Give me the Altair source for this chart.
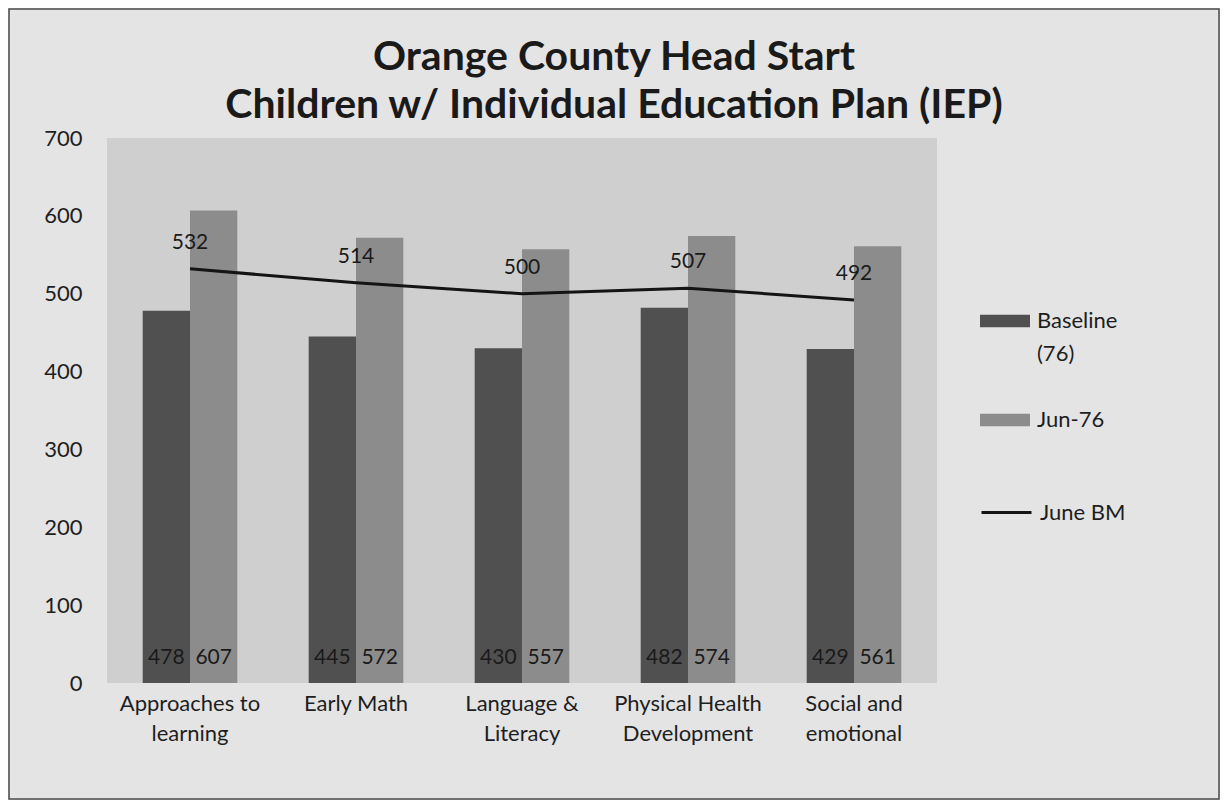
import altair as alt
import pandas as pd

categories = ["Approaches to learning", "Early Math", "Language & Literacy",
              "Physical Health Development", "Social and emotional"]
label_lines = [["Approaches to", "learning"], ["Early Math"], ["Language &", "Literacy"],
               ["Physical Health", "Development"], ["Social and", "emotional"]]
series = ["Baseline (76)", "Jun-76"]
baseline = [478, 445, 430, 482, 429]
jun76 = [607, 572, 557, 574, 561]
line_name = "June BM"
june_bm = [532, 514, 500, 507, 492]

bars_df = pd.DataFrame(
    [{"cat": c, "series": series[0], "value": v} for c, v in zip(categories, baseline)]
    + [{"cat": c, "series": series[1], "value": v} for c, v in zip(categories, jun76)]
)
line_df = pd.DataFrame({"cat": categories, "series": line_name, "value": june_bm})

W, H = 830, 545
PL, PT, PR, PB = 99, 130, 283, 117
FONT = "Lato"
TXT = "#1e1e1e"

def js_list(lst):
    return "[" + ",".join("'" + s + "'" for s in lst) + "]"

x_expr = ""
for c, lines in zip(categories, label_lines):
    x_expr += f"datum.value == '{c}' ? {js_list(lines)} : "
x_expr += "datum.label"

x_enc = alt.X("cat:N", sort=categories, title=None,
              scale=alt.Scale(paddingInner=0.43, paddingOuter=0.215),
              axis=alt.Axis(labelExpr=x_expr, labelAngle=0, labelFontSize=22,
                            labelFont=FONT, labelColor=TXT, labelPadding=10,
                            labelLineHeight=30, ticks=False, domain=False, grid=False))
y_scale = alt.Scale(domain=[0, 700])
xoff = alt.XOffset("series:N", sort=series, scale=alt.Scale(paddingInner=0, paddingOuter=0))

bars = alt.Chart(bars_df).mark_bar().encode(
    x=x_enc,
    xOffset=xoff,
    y=alt.Y("value:Q", scale=y_scale, title=None,
            axis=alt.Axis(values=list(range(0, 701, 100)), labelFontSize=22, labelFont=FONT,
                          labelColor=TXT, labelPadding=25, ticks=False,
                          domain=False, grid=False)),
    color=alt.Color("series:N", sort=series,
                    scale=alt.Scale(domain=series, range=["#505050", "#8c8c8c"]),
                    legend=alt.Legend(title=None, orient="none", legendX=873, legendY=158,
                                      symbolType="M-1,-0.25H1V0.25H-1Z", symbolSize=2500,
                                      symbolStrokeWidth=0, labelFontSize=22, labelFont=FONT,
                                      labelColor=TXT, rowPadding=30, labelOffset=7,
                                      labelExpr="datum.label == 'Baseline (76)' ? ['Baseline', '(76)'] : datum.label")),
)

bar_text = alt.Chart(bars_df).mark_text(fontSize=21, font=FONT, color="#1a1a1a",
                                        baseline="middle", dy=-25).encode(
    x=alt.X("cat:N", sort=categories),
    xOffset=xoff,
    y=alt.datum(0),
    text=alt.Text("value:Q"),
)

line = alt.Chart(line_df).mark_line(strokeWidth=3).encode(
    x=alt.X("cat:N", sort=categories),
    y=alt.Y("value:Q", scale=y_scale),
    stroke=alt.Stroke("series:N", scale=alt.Scale(domain=[line_name], range=["#141414"]),
                      legend=alt.Legend(title=None, orient="none", legendX=873, legendY=348,
                                        symbolType="stroke", symbolSize=2500,
                                        symbolStrokeWidth=3, labelFontSize=22, labelFont=FONT,
                                        labelColor=TXT, labelOffset=7)),
)

line_text = alt.Chart(line_df).mark_text(fontSize=21, font=FONT, color="#1a1a1a",
                                         baseline="middle", dy=-26).encode(
    x=alt.X("cat:N", sort=categories),
    y=alt.Y("value:Q", scale=y_scale),
    text=alt.Text("value:Q"),
)

frame = alt.Chart(pd.DataFrame({"k": [0]})).mark_rect(
    filled=False, stroke="#4a4a4a", strokeWidth=1.5).encode(
    x=alt.value(-PL + 1), x2=alt.value(W + PR - 1),
    y=alt.value(-PT + 1), y2=alt.value(H + PB - 1),
)

chart = alt.layer(bars, bar_text, line, line_text, frame).resolve_scale(
    color="independent"
).properties(
    width=W, height=H,
    autosize=alt.AutoSizeParams(type="none"),
    padding={"left": PL, "top": PT, "right": PR, "bottom": PB},
    title=alt.TitleParams(
        text=["Orange County Head Start", "Children w/ Individual Education Plan (IEP)"],
        fontSize=41, font=FONT, fontWeight="bold", color="#1a1a1a",
        anchor="middle", frame="bounds", offset=-119, lineHeight=48,
    ),
).configure(
    background="#e4e4e4",
    style={"guide-label": {"lineHeight": 33}},
).configure_view(fill="#cfcfcf", stroke=None)

chart.save("out.html", embed_options={"renderer": "svg", "actions": False})
